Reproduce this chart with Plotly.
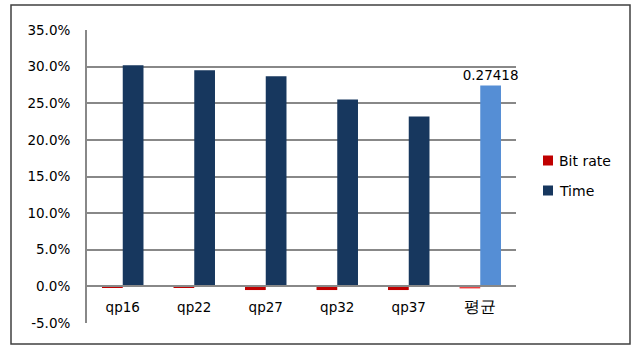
import plotly.graph_objects as go

# Data
categories = ["qp16", "qp22", "qp27", "qp32", "qp37", "평균"]
bit_rate = [-0.0012, -0.0012, -0.005, -0.005, -0.005, -0.0028]
time_vals = [0.302, 0.295, 0.287, 0.255, 0.232, 0.27418]
avg_label = "0.27418"
series_names = ["Bit rate", "Time"]

y_ticks = [-0.05, 0.0, 0.05, 0.10, 0.15, 0.20, 0.25, 0.30, 0.35]
y_range = [-0.05, 0.35]
y_ticktext = [f"{v * 100:.1f}%" for v in y_ticks]

FONT = "DejaVu Sans"
bit_colors = ["#C00000"] * 5 + ["#F04040"]
time_colors = ["#17375E"] * 5 + ["#558ED5"]
time_text = [""] * 5 + [avg_label]

# Hangul label is set slightly larger so it reads at the same weight as the Latin ones
x_ticktext = [
    c if c.isascii() else f'<span style="font-size:15.5px">{c}</span>'
    for c in categories
]

fig = go.Figure()
fig.add_trace(go.Bar(
    x=categories, y=bit_rate, name=series_names[0],
    marker=dict(color=bit_colors, line=dict(width=0)),
    showlegend=False,
))
fig.add_trace(go.Bar(
    x=categories, y=time_vals, name=series_names[1],
    marker=dict(color=time_colors, line=dict(width=0)),
    text=time_text, textposition="outside", cliponaxis=False,
    constraintext="none",
    textfont=dict(family=FONT, size=13.5, color="#000000"),
    showlegend=False,
))

# plot area in pixels
L, R, T, B = 87, 516, 30, 323
pw, ph = R - L, B - T


def px_x(x):
    return (x - L) / pw


def px_y(y):
    return (B - y) / ph


# x axis sits on the zero line
zero_pos = (0 - y_range[0]) / (y_range[1] - y_range[0])

shapes = [dict(
    type="rect", xref="paper", yref="paper",
    x0=px_x(11), x1=px_x(630), y0=px_y(344), y1=px_y(5),
    line=dict(color="#404040", width=1.5), fillcolor="rgba(0,0,0,0)",
    layer="below",
)]
annotations = []

# legend: colour swatch + series name
legend_colors = [bit_colors[0], time_colors[0]]
for i, (name, col) in enumerate(zip(series_names, legend_colors)):
    cy = 160.5 + 30 * i
    shapes.append(dict(
        type="rect", xref="paper", yref="paper",
        x0=px_x(543), x1=px_x(553), y0=px_y(cy + 5), y1=px_y(cy - 5),
        line=dict(width=0), fillcolor=col,
    ))
    annotations.append(dict(
        xref="paper", yref="paper", x=px_x(557), y=px_y(cy),
        xanchor="left", yanchor="middle", text=name, showarrow=False,
        font=dict(family=FONT, size=14, color="#000000"),
    ))

fig.update_layout(
    width=635, height=346,
    margin=dict(l=L, r=635 - R, t=T, b=346 - B),
    paper_bgcolor="white", plot_bgcolor="white",
    barmode="group", bargap=0.42, bargroupgap=0,
    font=dict(family=FONT, size=13.5, color="#000000"),
    showlegend=False,
    xaxis=dict(
        anchor="free", position=zero_pos,
        tickmode="array", tickvals=categories, ticktext=x_ticktext,
        showline=True, linecolor="#888888", linewidth=2,
        showgrid=False, ticks="", ticklabelstandoff=8,
        tickfont=dict(family=FONT, size=13.5),
        fixedrange=True,
    ),
    yaxis=dict(
        range=y_range, tickvals=y_ticks, ticktext=y_ticktext,
        showgrid=True, gridcolor="#888888", gridwidth=2,
        zeroline=False,
        showline=True, linecolor="#888888", linewidth=2,
        ticks="", ticklabelstandoff=12,
        tickfont=dict(family=FONT, size=13.5),
    ),
    shapes=shapes,
    annotations=annotations,
)

fig.write_html("out.html")
